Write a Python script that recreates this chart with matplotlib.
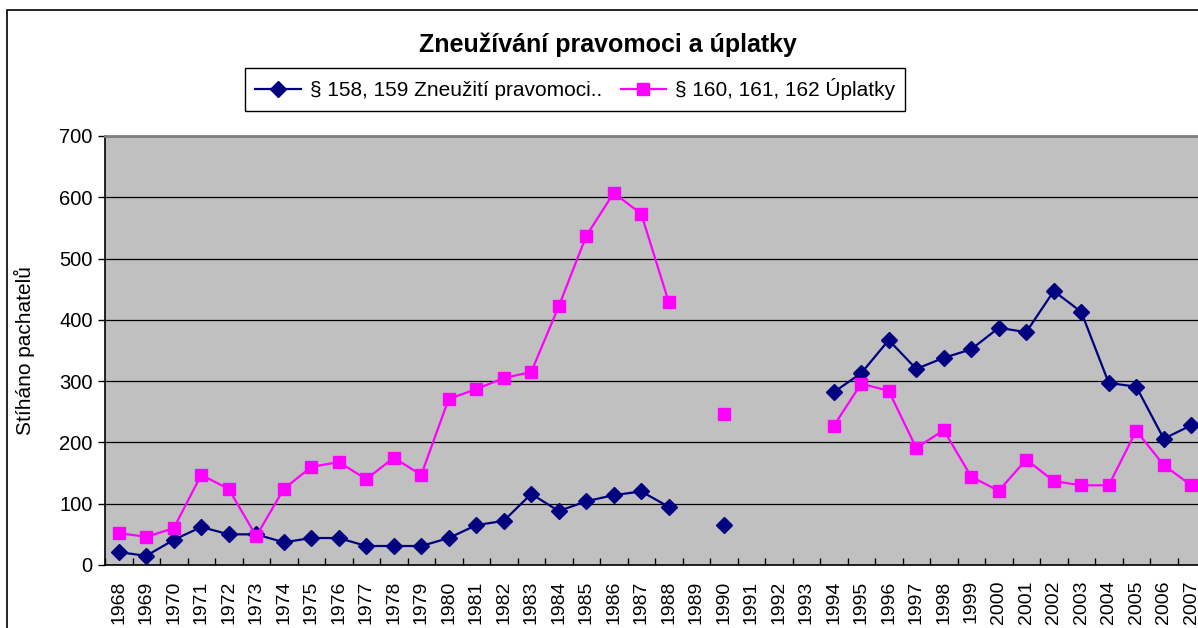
"""
Zneužívání pravomoci a úplatky - stíhaní pachatelé 1968-2007
"""

import numpy as np
import matplotlib
matplotlib.use('Agg')
from matplotlib import pyplot as plt
from matplotlib.patches import Rectangle
from matplotlib.ticker import FixedLocator, NullFormatter

plt.rcParams['font.family'] = ['Liberation Sans', 'DejaVu Sans']

# data
roky = list(range(1968, 2008))
nan = np.nan
zneuziti = [21, 15, 41, 62, 50, 50, 37, 44, 44, 31,
            31, 31, 44, 65, 72, 116, 88, 104, 114, 120,
            95, nan, 65, nan, nan, nan, 282, 313, 367, 320,
            338, 352, 387, 380, 447, 413, 297, 291, 206, 228]
uplatky = [52, 46, 60, 147, 124, 47, 124, 160, 168, 140,
           175, 147, 271, 287, 305, 315, 422, 537, 607, 573,
           429, nan, 246, nan, nan, nan, 227, 296, 284, 191,
           220, 144, 121, 172, 137, 130, 130, 219, 163, 130]
nazvy = ['§ 158, 159 Zneužití pravomoci..', '§ 160, 161, 162 Úplatky']
y_ticks = [0, 100, 200, 300, 400, 500, 600, 700]

# obrázek
W, H = 1198, 628
fig = plt.figure(figsize=(W / 100, H / 100), dpi=100)

# rámeček celého grafu (přesahuje vpravo a dole)
fig.patches.append(Rectangle((7 / W, -0.1), 1.2, 1 - 10 / H + 0.1,
                             transform=fig.transFigure, fill=False,
                             edgecolor='black', linewidth=1.2))

# plocha grafu
left, right, top, bottom = 105, 1205, 136, 565
ax = fig.add_axes([left / W, 1 - bottom / H, (right - left) / W, (bottom - top) / H])
ax.set_facecolor('#C0C0C0')

x = np.arange(len(roky))
ax.plot(x, zneuziti, color='#000080', marker='D', markersize=8.5, linewidth=1.6,
        label=nazvy[0])
ax.plot(x, uplatky, color='#FF00FF', marker='s', markersize=8.5, linewidth=1.6,
        label=nazvy[1])

ax.set_xlim(-0.5, len(roky) - 0.5)
ax.set_ylim(0, 700)
ax.set_yticks(y_ticks)
ax.yaxis.grid(True, color='black', linewidth=0.9)
ax.set_axisbelow(True)

ax.set_xticks(x)
ax.set_xticklabels([str(r) for r in roky], rotation=90, fontsize=14)
ax.tick_params(axis='x', which='major', length=0, pad=11)
ax.xaxis.set_minor_locator(FixedLocator(np.arange(-0.5, len(roky), 1)))
ax.xaxis.set_minor_formatter(NullFormatter())
ax.tick_params(axis='x', which='minor', direction='in', length=5, width=1, color='black')
ax.tick_params(axis='y', direction='out', length=5, width=1, labelsize=14.5, pad=4)

for s in ['left', 'bottom']:
    ax.spines[s].set_color('black')
    ax.spines[s].set_linewidth(1.2)
ax.spines['top'].set_color('#808080')
ax.spines['top'].set_linewidth(2)
ax.spines['right'].set_visible(False)

ax.set_ylabel('Stíháno pachatelů', fontsize=15)
ax.yaxis.set_label_coords(-0.0636, 0.5)

fig.text(608 / W, 1 - 45 / H, 'Zneužívání pravomoci a úplatky', ha='center', va='center',
         fontsize=18, fontweight='bold')

leg = fig.legend(loc='upper left', bbox_to_anchor=(245 / W, 1 - 68 / H), ncol=2,
                 fontsize=15, frameon=True, fancybox=False, framealpha=1,
                 edgecolor='black', handlelength=2.2, handletextpad=0.4,
                 columnspacing=0.9, borderpad=0.5, borderaxespad=0)
leg.get_frame().set_linewidth(1)

fig.savefig('out.png', dpi=100)
